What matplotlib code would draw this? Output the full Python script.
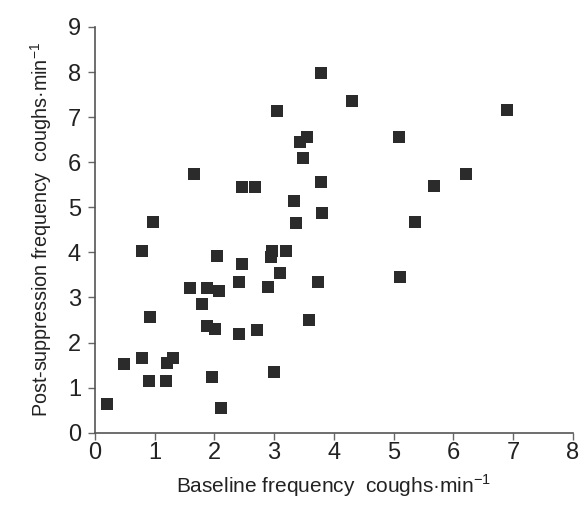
import matplotlib.pyplot as plt

# baseline vs post-suppression cough frequency (coughs per min)
baseline = [3.78, 3.05, 3.55, 3.43, 3.48, 1.66, 2.46, 2.68, 3.34, 3.36,
            0.97, 3.78, 3.81, 4.30, 6.90, 5.09, 6.21, 5.67, 5.36, 0.78,
            2.05, 2.97, 2.95, 3.20, 2.46, 3.10, 2.41, 1.59, 1.87, 2.07,
            2.90, 3.74, 1.80, 0.92, 1.87, 2.01, 2.41, 2.72, 3.59, 0.78,
            0.49, 1.20, 1.31, 0.91, 1.19, 1.96, 3.00, 2.11, 0.20, 5.11]
post = [7.98, 7.14, 6.57, 6.44, 6.09, 5.74, 5.44, 5.46, 5.15, 4.66,
        4.68, 5.55, 4.87, 7.35, 7.15, 6.57, 5.74, 5.48, 4.68, 4.02,
        3.93, 4.02, 3.90, 4.02, 3.74, 3.54, 3.35, 3.22, 3.22, 3.15,
        3.24, 3.35, 2.86, 2.56, 2.37, 2.29, 2.19, 2.28, 2.50, 1.65,
        1.53, 1.54, 1.66, 1.15, 1.15, 1.24, 1.34, 0.54, 0.64, 3.45]

xticks = list(range(0, 9))
yticks = list(range(0, 10))

plt.rcParams['font.family'] = ['Liberation Sans', 'DejaVu Sans']
plt.rcParams['mathtext.fontset'] = 'custom'
plt.rcParams['mathtext.rm'] = 'Liberation Sans'

fig = plt.figure(figsize=(5.79, 5.09), dpi=100)
ax = fig.add_axes([0.164, 0.150, 0.825, 0.797])

ax.scatter(baseline, post, marker='s', s=75, color='#2b2b2b', linewidths=0, zorder=3)

ax.set_xlim(0, 8)
ax.set_ylim(0, 9)
ax.set_xticks(xticks)
ax.set_yticks(yticks)
ax.tick_params(labelsize=17, length=5, width=1, color='#666666', labelcolor='#222222')
ax.tick_params(axis='x', pad=1.5)
ax.tick_params(axis='y', pad=5)

for s in ['top', 'right']:
    ax.spines[s].set_visible(False)
for s in ['left', 'bottom']:
    ax.spines[s].set_color('#555555')
    ax.spines[s].set_linewidth(1.2)

ax.set_xlabel('Baseline frequency  coughs\u00b7min$^{-1}$', fontsize=15, labelpad=6, color='#222222')
ax.set_ylabel('Post-suppression frequency  coughs\u00b7min$^{-1}$', fontsize=14.2, labelpad=10, color='#222222')

fig.savefig('out.png', dpi=100)
